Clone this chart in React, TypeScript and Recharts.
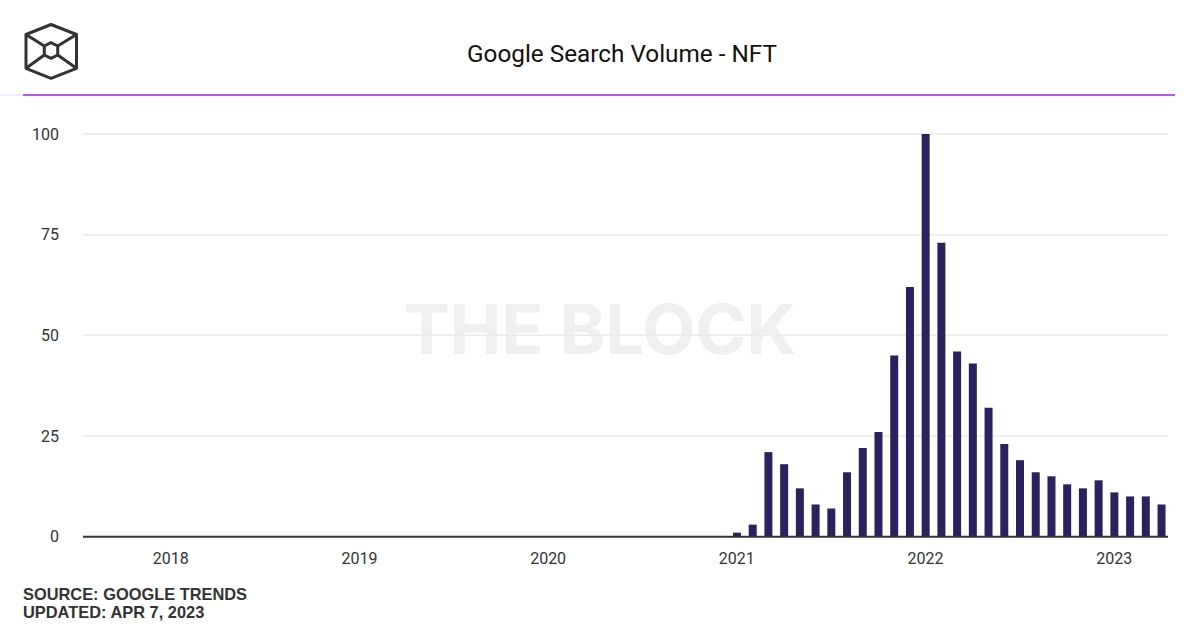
import React from "react";
import { BarChart, Bar, XAxis, YAxis, CartesianGrid } from "recharts";

const months = [
  "2021-01", "2021-02", "2021-03", "2021-04", "2021-05", "2021-06",
  "2021-07", "2021-08", "2021-09", "2021-10", "2021-11", "2021-12",
  "2022-01", "2022-02", "2022-03", "2022-04", "2022-05", "2022-06",
  "2022-07", "2022-08", "2022-09", "2022-10", "2022-11", "2022-12",
  "2023-01", "2023-02", "2023-03", "2023-04",
];
const searchVolume = [
  1, 3, 21, 18, 12, 8, 7, 16, 22, 26, 45, 62,
  100, 73, 46, 43, 32, 23, 19, 16, 15, 13, 12, 14,
  11, 10, 10, 8,
];
const yearTicks = ["2018", "2019", "2020", "2021", "2022", "2023"];
const yTicks = [0, 25, 50, 75, 100];

const BASE_YEAR = 2018;
const monthIndex = (m: string) => {
  const [y, mo] = m.split("-").map(Number);
  return (y - BASE_YEAR) * 12 + (mo - 1);
};

const data = months.map((m, i) => ({ t: monthIndex(m), v: searchVolume[i] }));
const xTicks = yearTicks.map((y) => (Number(y) - BASE_YEAR) * 12);

const BAR = "#2b215e";
const TXT = "#333333";

export default function App() {
  return (
    <div style={{ position: "absolute", left: 0, top: 0, width: 1200, height: 630, background: "#fff", overflow: "hidden" }}>
      <svg width={1200} height={630} style={{ position: "absolute", left: 0, top: 0 }}>
        {/* logo */}
        <g fill="none" stroke="#333" strokeWidth={3} strokeLinejoin="round">
          <polygon points="51,24.5 76.5,34.5 76.5,68.3 51,78.3 26,68.3 26,34.5" />
          <polygon points="51,42.7 57.7,46 57.7,55 51,58.3 44.3,55 44.3,46" />
          <line x1={26} y1={34.5} x2={44.3} y2={46} />
          <line x1={76.5} y1={34.5} x2={57.7} y2={46} />
          <line x1={26} y1={68.3} x2={44.3} y2={55} />
          <line x1={76.5} y1={68.3} x2={57.7} y2={55} />
        </g>
        <text x={622} y={62} textAnchor="middle" fontFamily="Roboto" fontSize={24.3} fill="#111">
          Google Search Volume - NFT
        </text>
        <line x1={0} y1={95} x2={23} y2={95} stroke="#f3e6fb" strokeWidth={1.5} />
        <line x1={23} y1={95} x2={1175} y2={95} stroke="#a020f0" strokeWidth={1.6} />
        <text x={600} y={354} textAnchor="middle" fontFamily="Inter" fontWeight={700} fontSize={69} fill="#f0f0f0">
          THE BLOCK
        </text>
        <text x={23} y={600} fontFamily="Liberation Sans" fontWeight={700} fontSize={16.4} fill={TXT}>
          SOURCE: GOOGLE TRENDS
        </text>
        <text x={23} y={618} fontFamily="Liberation Sans" fontWeight={700} fontSize={16.4} fill={TXT}>
          UPDATED: APR 7, 2023
        </text>
      </svg>
      <div style={{ position: "absolute", left: 0, top: 0 }}>
        <BarChart
          width={1200}
          height={630}
          data={data}
          margin={{ top: 134, right: 32, bottom: 63.3, left: 0 }}
        >
          <CartesianGrid horizontal vertical={false} stroke="#ebebeb" strokeWidth={1.5} />
          <XAxis
            dataKey="t"
            type="number"
            domain={[-5.58, 63.42]}
            ticks={xTicks}
            tickFormatter={(v: number) => String(BASE_YEAR + Math.round(v / 12))}
            tickLine={false}
            tickMargin={10}
            height={30}
            axisLine={{ stroke: "#333", strokeWidth: 2 }}
            tick={{ fill: TXT, fontSize: 16, fontFamily: "Roboto" }}
            allowDataOverflow
          />
          <YAxis
            type="number"
            domain={[0, 100]}
            ticks={yTicks}
            width={83}
            axisLine={false}
            tickLine={false}
            tickMargin={18}
            tick={{ fill: TXT, fontSize: 16, fontFamily: "Roboto" }}
          />
          <Bar dataKey="v" fill={BAR} barSize={8} isAnimationActive={false} />
        </BarChart>
      </div>
    </div>
  );
}
